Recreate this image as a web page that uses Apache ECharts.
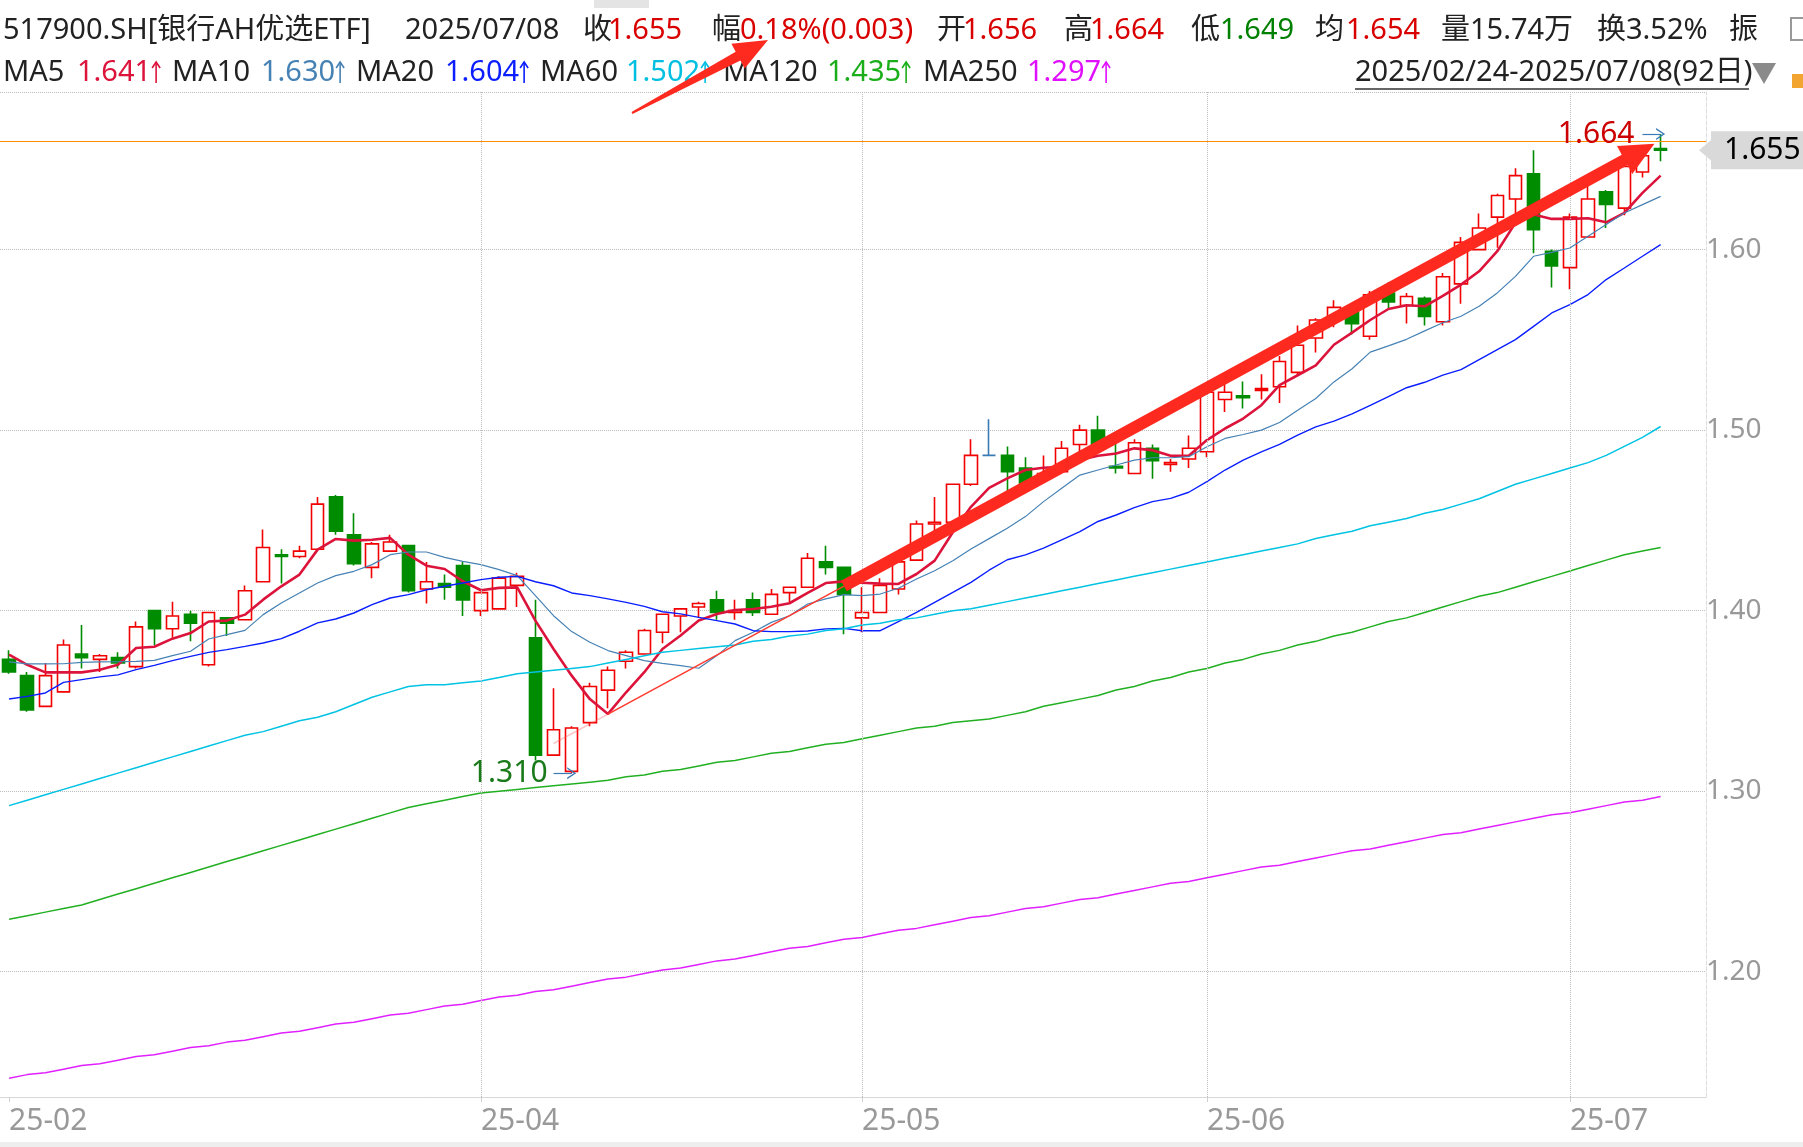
<!DOCTYPE html>
<html><head><meta charset="utf-8">
<script src="https://cdn.jsdelivr.net/npm/echarts@6/dist/echarts.min.js"></script>
<style>html,body{margin:0;padding:0;background:#fff;}#c{width:1803px;height:1147px;}</style>
</head><body><div id="c"></div>
<script>
// ---------------- data ----------------
const dates = [
'2025-02-24','2025-02-25','2025-02-26','2025-02-27','2025-02-28',
'2025-03-03','2025-03-04','2025-03-05','2025-03-06','2025-03-07',
'2025-03-10','2025-03-11','2025-03-12','2025-03-13','2025-03-14',
'2025-03-17','2025-03-18','2025-03-19','2025-03-20','2025-03-21',
'2025-03-24','2025-03-25','2025-03-26','2025-03-27','2025-03-28','2025-03-31',
'2025-04-01','2025-04-02','2025-04-03',
'2025-04-07','2025-04-08','2025-04-09','2025-04-10','2025-04-11',
'2025-04-14','2025-04-15','2025-04-16','2025-04-17','2025-04-18',
'2025-04-21','2025-04-22','2025-04-23','2025-04-24','2025-04-25',
'2025-04-28','2025-04-29','2025-04-30',
'2025-05-06','2025-05-07','2025-05-08','2025-05-09',
'2025-05-12','2025-05-13','2025-05-14','2025-05-15','2025-05-16',
'2025-05-19','2025-05-20','2025-05-21','2025-05-22','2025-05-23',
'2025-05-26','2025-05-27','2025-05-28','2025-05-29','2025-05-30',
'2025-06-03','2025-06-04','2025-06-05','2025-06-06',
'2025-06-09','2025-06-10','2025-06-11','2025-06-12','2025-06-13',
'2025-06-16','2025-06-17','2025-06-18','2025-06-19','2025-06-20',
'2025-06-23','2025-06-24','2025-06-25','2025-06-26','2025-06-27','2025-06-30',
'2025-07-01','2025-07-02','2025-07-03','2025-07-04','2025-07-07','2025-07-08'];
const padCats = [' ', '  '];

const open = [1.373,1.364,1.347,1.355,1.376,1.373,1.374,1.369,1.400,1.390,
 1.398,1.370,1.396,1.395,1.416,1.431,1.430,1.434,1.463,1.442,
 1.424,1.433,1.436,1.412,1.415,1.425,1.400,1.401,1.414,1.385,
 1.320,1.311,1.338,1.356,1.372,1.376,1.388,1.397,1.402,1.406,
 1.399,1.406,1.398,1.410,1.413,1.427,1.424,1.396,1.399,1.412,
 1.428,1.448,1.449,1.470,1.486,1.486,1.479,1.473,1.477,1.492,
 1.500,1.480,1.476,1.490,1.481,1.484,1.488,1.517,1.519,1.522,
 1.524,1.532,1.551,1.563,1.567,1.552,1.576,1.569,1.573,1.560,
 1.581,1.600,1.618,1.628,1.642,1.599,1.590,1.607,1.632,1.623,
 1.643,1.656];
const close = [1.366,1.345,1.364,1.381,1.374,1.375,1.371,1.391,1.390,1.397,
 1.393,1.399,1.393,1.411,1.435,1.430,1.433,1.459,1.444,1.426,
 1.437,1.438,1.411,1.416,1.413,1.406,1.410,1.418,1.419,1.320,
 1.334,1.335,1.358,1.367,1.377,1.389,1.398,1.401,1.404,1.399,
 1.400,1.399,1.409,1.413,1.429,1.424,1.409,1.399,1.414,1.427,
 1.448,1.449,1.470,1.486,1.486,1.477,1.470,1.476,1.490,1.500,
 1.491,1.479,1.493,1.483,1.482,1.490,1.521,1.521,1.518,1.523,
 1.538,1.547,1.561,1.568,1.559,1.575,1.571,1.574,1.563,1.585,
 1.604,1.612,1.630,1.641,1.611,1.591,1.618,1.628,1.625,1.646,
 1.652,1.655];
const low = [1.365,1.344,1.347,1.355,1.368,1.366,1.368,1.368,1.381,1.385,
 1.383,1.369,1.386,1.395,1.416,1.415,1.429,1.434,1.442,1.425,
 1.418,1.433,1.410,1.404,1.406,1.397,1.397,1.401,1.402,1.317,
 1.320,1.310,1.336,1.346,1.368,1.376,1.382,1.388,1.396,1.395,
 1.395,1.397,1.398,1.404,1.413,1.420,1.387,1.388,1.399,1.409,
 1.428,1.442,1.445,1.469,1.486,1.466,1.469,1.471,1.477,1.486,
 1.490,1.476,1.476,1.473,1.477,1.479,1.485,1.510,1.512,1.517,
 1.515,1.530,1.543,1.557,1.553,1.550,1.567,1.559,1.558,1.558,
 1.570,1.600,1.601,1.620,1.598,1.579,1.578,1.607,1.612,1.619,
 1.640,1.649];
const high = [1.378,1.366,1.371,1.384,1.392,1.376,1.377,1.394,1.400,1.405,
 1.400,1.399,1.396,1.414,1.445,1.434,1.436,1.463,1.464,1.454,
 1.438,1.442,1.436,1.427,1.420,1.427,1.410,1.419,1.421,1.406,
 1.357,1.336,1.360,1.369,1.378,1.390,1.398,1.401,1.405,1.411,
 1.406,1.410,1.412,1.413,1.432,1.436,1.424,1.413,1.418,1.428,
 1.450,1.463,1.470,1.495,1.506,1.491,1.485,1.486,1.494,1.503,
 1.508,1.493,1.495,1.492,1.484,1.497,1.521,1.531,1.527,1.531,
 1.541,1.558,1.562,1.572,1.570,1.577,1.582,1.576,1.574,1.587,
 1.607,1.620,1.631,1.645,1.655,1.600,1.620,1.636,1.633,1.654,
 1.655,1.664];

const ma5 = [1.3756,1.370,1.3658,1.3658,1.3658,1.3673,1.370,1.3793,1.380,1.3845,
 1.3876,1.394,1.3945,1.3978,1.4061,1.4135,1.420,1.4338,1.4397,1.4388,
 1.4393,1.4403,1.431,1.4249,1.4231,1.4163,1.4113,1.4126,1.4129,1.3945,
 1.3788,1.364,1.351,1.3428,1.3548,1.3659,1.3788,1.3862,1.3945,1.3982,
 1.4004,1.4009,1.4022,1.4041,1.4098,1.4153,1.4162,1.4155,1.415,1.4148,
 1.4203,1.4277,1.4434,1.4575,1.468,1.4733,1.4779,1.4792,1.4797,1.4834,
 1.4858,1.4871,1.4899,1.4889,1.4858,1.4858,1.4945,1.5009,1.5064,1.5138,
 1.5249,1.5304,1.5359,1.5473,1.554,1.561,1.5671,1.5692,1.5686,1.5744,
 1.5806,1.588,1.5991,1.6148,1.6194,1.617,1.617,1.6174,1.6151,1.6203,
 1.6314,1.641];
const ma10 = [1.3716,1.3705,1.3705,1.3706,1.3714,1.3716,1.3717,1.3719,1.3725,1.3751,
 1.3775,1.3843,1.3867,1.3891,1.3978,1.4042,1.4098,1.4153,1.4194,1.4218,
 1.4255,1.431,1.4325,1.4325,1.4295,1.4273,1.4255,1.4227,1.4194,1.4083,
 1.3972,1.3884,1.3825,1.3779,1.3751,1.3723,1.3708,1.3696,1.3681,1.3751,
 1.3834,1.388,1.3935,1.3972,1.4037,1.4065,1.4089,1.4083,1.4092,1.4124,
 1.4175,1.4221,1.4277,1.4341,1.4399,1.4457,1.4521,1.4604,1.4678,1.4751,
 1.4779,1.4807,1.4834,1.4847,1.4847,1.4853,1.4908,1.4954,1.4976,1.500,
 1.5042,1.511,1.5175,1.5267,1.534,1.5432,1.5467,1.5503,1.555,1.5595,
 1.5631,1.5686,1.576,1.5852,1.5963,1.5985,1.6009,1.6074,1.6139,1.6203,
 1.6249,1.6295];
const ma20 = [1.3511,1.3525,1.3544,1.3603,1.3618,1.3633,1.3644,1.3673,1.3697,1.3723,
 1.3747,1.3769,1.3784,1.3802,1.3821,1.3845,1.3886,1.3932,1.3954,1.3987,
 1.4033,1.407,1.4089,1.4116,1.4135,1.4153,1.4172,1.4185,1.419,1.416,
 1.4138,1.4098,1.4083,1.4065,1.4046,1.4024,1.3994,1.3982,1.3963,1.3945,
 1.3926,1.3889,1.3884,1.3884,1.3887,1.3899,1.3902,1.3889,1.3889,1.3939,
 1.3991,1.4046,1.4101,1.4157,1.4224,1.4282,1.4309,1.4346,1.4392,1.4438,
 1.4494,1.453,1.4571,1.4604,1.4622,1.4656,1.4715,1.4779,1.4834,1.488,
 1.4921,1.4972,1.5018,1.505,1.509,1.5137,1.5186,1.5235,1.5265,1.5305,
 1.5335,1.5391,1.5446,1.5501,1.5575,1.5649,1.5695,1.5751,1.5834,1.5898,
 1.5963,1.6028];
const ma60 = [1.292,1.295,1.298,1.301,1.304,1.307,1.310,1.313,1.316,1.319,
 1.322,1.325,1.328,1.331,1.333,1.336,1.339,1.341,1.344,1.348,
 1.352,1.355,1.358,1.359,1.359,1.360,1.361,1.363,1.365,1.366,
 1.367,1.368,1.369,1.371,1.373,1.375,1.377,1.378,1.379,1.380,
 1.381,1.383,1.384,1.386,1.387,1.389,1.390,1.392,1.393,1.395,
 1.396,1.398,1.400,1.401,1.403,1.405,1.407,1.409,1.411,1.413,
 1.415,1.417,1.419,1.421,1.423,1.425,1.427,1.429,1.431,1.433,
 1.435,1.437,1.440,1.442,1.444,1.447,1.449,1.451,1.454,1.456,
 1.459,1.462,1.466,1.470,1.473,1.476,1.479,1.482,1.486,1.491,
 1.496,1.502];
const ma120 = [1.229,1.231,1.233,1.235,1.237,1.240,1.243,1.246,1.249,1.252,
 1.255,1.258,1.261,1.264,1.267,1.270,1.273,1.276,1.279,1.282,
 1.285,1.288,1.291,1.293,1.295,1.297,1.299,1.300,1.301,1.302,
 1.303,1.304,1.305,1.306,1.308,1.309,1.311,1.312,1.314,1.316,
 1.317,1.319,1.321,1.322,1.324,1.326,1.327,1.329,1.331,1.333,
 1.335,1.336,1.338,1.339,1.340,1.342,1.344,1.347,1.349,1.351,
 1.353,1.356,1.358,1.361,1.363,1.366,1.368,1.371,1.373,1.376,
 1.378,1.381,1.383,1.386,1.388,1.391,1.394,1.396,1.399,1.402,
 1.405,1.408,1.410,1.413,1.416,1.419,1.422,1.425,1.428,1.431,
 1.433,1.435];
const ma250 = [1.141,1.143,1.144,1.146,1.148,1.149,1.151,1.153,1.154,1.156,
 1.158,1.159,1.161,1.162,1.164,1.166,1.167,1.169,1.171,1.172,
 1.174,1.176,1.177,1.179,1.181,1.182,1.184,1.186,1.187,1.189,
 1.190,1.192,1.194,1.196,1.197,1.199,1.201,1.202,1.204,1.206,
 1.207,1.209,1.211,1.213,1.214,1.216,1.218,1.219,1.221,1.223,
 1.224,1.226,1.228,1.230,1.231,1.233,1.235,1.236,1.238,1.240,
 1.241,1.243,1.245,1.247,1.249,1.250,1.252,1.254,1.256,1.258,
 1.259,1.261,1.263,1.265,1.267,1.268,1.270,1.272,1.274,1.276,
 1.277,1.279,1.281,1.283,1.285,1.287,1.288,1.290,1.292,1.294,
 1.295,1.297];

const monthLabelIdx = [0, 26, 47, 66, 86];
const monthLineIdx = [26, 47, 66, 86];
const yTickValues = [1.20, 1.30, 1.40, 1.50, 1.60];
const lastClose = 1.655;
const lowMark = { idx: 31, value: 1.310, text: '1.310' };
const highMark = { idx: 91, value: 1.664, text: '1.664' };
// trend annotation points [index, price]
const trendFaint = [[30, 1.3264], [33, 1.3427]];
const trendThin = [[33, 1.3427], [46, 1.4136]];
const trendThick = [[46, 1.4136], [91, 1.6605]];

const headerLine1 = [
  ['517900.SH[银行AH优选ETF]', 3, '#222'], ['2025/07/08', 405, '#222'],
  ['收', 583, '#222'], ['1.655', 608, '#d90000'],
  ['幅', 712, '#222'], ['0.18%(0.003)', 740, '#d90000'],
  ['开', 937, '#222'], ['1.656', 963, '#d90000'],
  ['高', 1064, '#222'], ['1.664', 1090, '#d90000'],
  ['低', 1191, '#222'], ['1.649', 1220, '#008000'],
  ['均', 1315, '#222'], ['1.654', 1346, '#d90000'],
  ['量15.74万', 1441, '#222'], ['换3.52%', 1597, '#222'], ['振', 1729, '#222']
];
// [label, x, value, valueX, valueColor]
const maLegend = [
  ['MA5', 3, '1.641', 77, '#dc143c'],
  ['MA10', 172, '1.630', 261, '#4682b4'],
  ['MA20', 356, '1.604', 445, '#0a1eff'],
  ['MA60', 540, '1.502', 626, '#00bfe0'],
  ['MA120', 723, '1.435', 827, '#1aae1a'],
  ['MA250', 923, '1.297', 1027, '#e010ff']
];
const rangeText = '2025/02/24-2025/07/08(92日)';

// ---------------- chart ----------------
const FONT = "'Noto Sans','Noto Sans CJK SC',sans-serif";
const chart = echarts.init(document.getElementById('c'), null, {renderer: 'canvas'});
const cats = dates.concat(padCats);
const kdata = open.map((o, i) => [o, close[i], low[i], high[i]]);

function maSeries(name, data, color, width) {
  return { name, type: 'line', data, symbol: 'none', smooth: false,
    lineStyle: { color, width }, silent: true, z: 3 };
}
const chevron = 'path://M0,10 L5,0 L10,10 L8.6,10 L5,2.6 L1.4,10 Z';

const option = {
  animation: false,
  backgroundColor: '#fff',
  textStyle: { fontFamily: FONT },
  grid: { left: 0, right: 97, top: 92, bottom: 50, containLabel: false },
  xAxis: {
    type: 'category', data: cats, boundaryGap: true,
    axisLine: { show: true, lineStyle: { color: '#d8d8d8', width: 1 } },
    axisTick: { show: true, alignWithLabel: true, length: 5, lineStyle: { color: '#d0d0d0' },
      interval: (i) => monthLabelIdx.indexOf(i) >= 0 },
    axisLabel: {
      interval: (i) => monthLabelIdx.indexOf(i) >= 0,
      formatter: (v) => v.trim() ? v.slice(2, 7) : '',
      align: 'left', color: '#999', fontSize: 30, margin: 9, fontFamily: FONT
    },
    splitLine: { show: false }
  },
  yAxis: {
    type: 'value', position: 'right', scale: true,
    min: 1.1306, max: 1.6873, splitNumber: 5, minInterval: 0.1, maxInterval: 0.1,
    axisLine: { show: true, lineStyle: { color: '#dcdcdc', type: 'dashed' } },
    axisTick: { show: false },
    axisLabel: { color: '#999', fontSize: 28, margin: 0, fontFamily: FONT,
      showMinLabel: false, showMaxLabel: false,
      formatter: (v) => yTickValues.some(t => Math.abs(t - v) < 1e-6) ? v.toFixed(2) : '' },
    splitLine: { show: true, lineStyle: { color: '#bdbdbd', type: 'dotted', width: 1 } }
  },
  series: [
    {
      name: 'K', type: 'candlestick', data: kdata, barWidth: 13, z: 2,
      itemStyle: { color: '#ffffff', color0: '#008c00', borderColor: '#f20000', borderColor0: '#008c00',
        borderColorDoji: '#3a7ab5', borderWidth: 1.6 },
      markLine: {
        silent: true, symbol: 'none', animation: false,
        label: { show: false },
        data: [
          { yAxis: lastClose, lineStyle: { color: '#ff8c00', width: 1.2, type: 'solid' } },
          ...monthLineIdx.map(i => ({ xAxis: dates[i], lineStyle: { color: '#bdbdbd', width: 1, type: 'dotted' } })),
          [ { coord: [dates[trendFaint[0][0]], trendFaint[0][1]], lineStyle: { color: 'rgba(255,90,90,0.35)', width: 1.5, type: 'solid' } },
            { coord: [dates[trendFaint[1][0]], trendFaint[1][1]] } ],
          [ { coord: [dates[trendThin[0][0]], trendThin[0][1]], lineStyle: { color: '#ff3b30', width: 1.6, type: 'solid' } },
            { coord: [dates[trendThin[1][0]], trendThin[1][1]] } ],
          [ { coord: [dates[lowMark.idx - 1], lowMark.value], symbol: 'none',
              lineStyle: { color: '#3a7ab5', width: 1.2, type: 'solid' },
              label: { show: true, position: 'start', formatter: lowMark.text, color: '#1a7a1a', fontSize: 30, distance: 6, fontFamily: FONT } },
            { coord: [dates[lowMark.idx], lowMark.value], symbol: chevron, symbolSize: [12, 9] } ],
          [ { coord: [dates[highMark.idx - 1], highMark.value], symbol: 'none',
              lineStyle: { color: '#3a7ab5', width: 1.2, type: 'solid' },
              label: { show: true, position: 'start', formatter: highMark.text, color: '#cc0000', fontSize: 30, distance: 8, fontFamily: FONT } },
            { coord: [dates[highMark.idx], highMark.value], symbol: chevron, symbolSize: [12, 9] } ]
        ]
      }
    },
    maSeries('MA5', ma5, '#dc143c', 2.6),
    maSeries('MA10', ma10, '#4682b4', 1.2),
    maSeries('MA20', ma20, '#0a1eff', 1.4),
    maSeries('MA60', ma60, '#00c3e3', 1.5),
    maSeries('MA120', ma120, '#22b022', 1.5),
    maSeries('MA250', ma250, '#e020ff', 1.5)
  ]
};
chart.setOption(option);

// ---------------- overlays positioned through the chart scales ----------------
function arrowPoly(x1, y1, x2, y2, wTail, wShaft, wHead, lHead) {
  const dx = x2 - x1, dy = y2 - y1, L = Math.hypot(dx, dy);
  const ux = dx / L, uy = dy / L, nx = -uy, ny = ux;
  const bx = x2 - ux * lHead, by = y2 - uy * lHead;
  return [[x1 + nx * wTail, y1 + ny * wTail], [bx + nx * wShaft, by + ny * wShaft],
    [bx + nx * wHead, by + ny * wHead], [x2, y2], [bx - nx * wHead, by - ny * wHead],
    [bx - nx * wShaft, by - ny * wShaft], [x1 - nx * wTail, y1 - ny * wTail]];
}
const p0 = chart.convertToPixel({ gridIndex: 0 }, [dates[trendThick[0][0]], trendThick[0][1]]);
const p1raw = chart.convertToPixel({ gridIndex: 0 }, [dates[trendThick[1][0]], trendThick[1][1]]);
const dxl = p1raw[0] - p0[0], dyl = p1raw[1] - p0[1], Ll = Math.hypot(dxl, dyl);
const p1 = [p1raw[0] - dxl / Ll * 7, p1raw[1] - dyl / Ll * 7];
const yClose = chart.convertToPixel({ yAxisIndex: 0 }, lastClose);

const measureCtx = document.createElement('canvas').getContext('2d');
function textW(t, size) { measureCtx.font = size + 'px ' + FONT; return measureCtx.measureText(t).width; }

const Y1 = 31, Y2 = 73, HS = 29;
const g = [];
const txt = (t, x, y, color, size) => ({ type: 'text', z: 100, silent: true,
  style: { text: t, x, y, fill: color, fontSize: size, fontFamily: FONT, verticalAlign: 'middle', align: 'left' } });
headerLine1.forEach(([t, x, c]) => g.push(txt(t, x, Y1, c, HS)));
maLegend.forEach(([lab, x, val, vx, c]) => {
  g.push(txt(lab, x, Y2, '#222', HS));
  g.push(txt(val, vx, Y2, c, HS));
  const ax = vx + textW(val, HS) + 5;
  g.push({ type: 'polyline', z: 100, silent: true,
    shape: { points: [[ax, Y2 + 10], [ax, Y2 - 10]] }, style: { stroke: c, lineWidth: 1.6, fill: null } });
  g.push({ type: 'polyline', z: 100, silent: true,
    shape: { points: [[ax - 4, Y2 - 5], [ax, Y2 - 11], [ax + 4, Y2 - 5]] }, style: { stroke: c, lineWidth: 1.6, fill: null } });
});
g.push(txt(rangeText, 1355, Y2, '#222', HS));
g.push({ type: 'line', z: 100, silent: true, shape: { x1: 1355, y1: 89, x2: 1749, y2: 89 }, style: { stroke: '#333', lineWidth: 1.5 } });
g.push({ type: 'polygon', z: 100, silent: true, shape: { points: [[1752, 63], [1776, 63], [1764, 84]] }, style: { fill: '#8a8a8a' } });
g.push({ type: 'rect', z: 100, silent: true, shape: { x: 1791, y: 18, width: 16, height: 22 }, style: { fill: 'none', stroke: '#999', lineWidth: 2 } });
g.push({ type: 'rect', z: 100, silent: true, shape: { x: 1792, y: 74, width: 14, height: 14 }, style: { fill: '#f3a531' } });
g.push({ type: 'rect', z: 100, silent: true, shape: { x: 594, y: 0, width: 55, height: 8 }, style: { fill: '#e4e4e4' } });
// header annotation arrow
g.push({ type: 'polygon', z: 110, silent: true, shape: { points: arrowPoly(632, 113, 768, 40, 1, 5, 14, 34) }, style: { fill: '#ff2a1f' } });
// thick trend arrow
g.push({ type: 'polygon', z: 110, silent: true, shape: { points: arrowPoly(p0[0], p0[1], p1[0], p1[1], 6, 6, 16, 34) }, style: { fill: '#ff2a1f' } });
// last price tag
g.push({ type: 'polygon', z: 100, silent: true, shape: { points: [[1699, yClose], [1712, yClose - 11], [1712, yClose + 11]] }, style: { fill: '#d9d9d9' } });
g.push({ type: 'rect', z: 100, silent: true, shape: { x: 1711, y: yClose - 19, width: 92, height: 38 }, style: { fill: '#d9d9d9' } });
g.push(txt('1.655', 1724, yClose, '#000', 30));
// bottom strip
g.push({ type: 'rect', z: 100, silent: true, shape: { x: 0, y: 1142, width: 1803, height: 5 }, style: { fill: '#eeeeee' } });
chart.setOption({ graphic: g });
</script>
</body></html>
